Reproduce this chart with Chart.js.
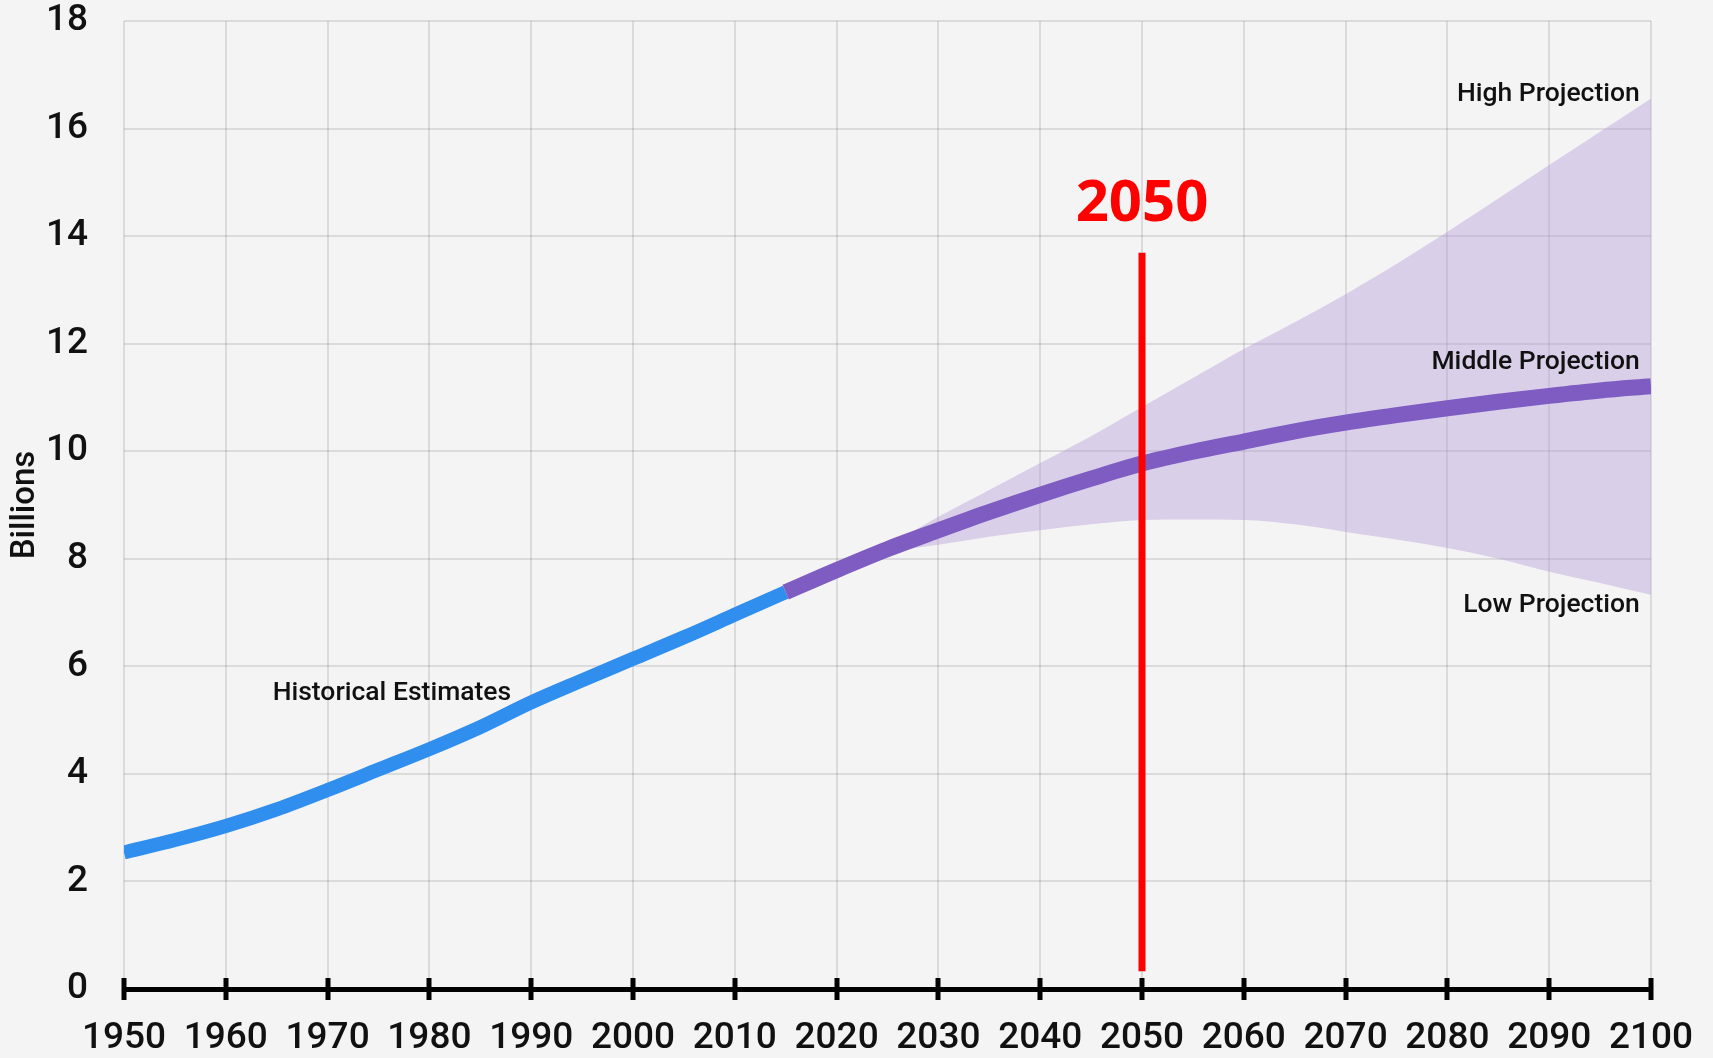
<!DOCTYPE html>
<html><head><meta charset="utf-8">
<script src="https://cdn.jsdelivr.net/npm/chart.js@4.4.1/dist/chart.umd.min.js"></script>
<style>html,body{margin:0;padding:0;background:#f4f4f4;} canvas{display:block;}</style>
</head><body>
<canvas id="c" width="1713" height="1058"></canvas>
<script>
// ---- data ----
const histYears  = [1950,1955,1960,1965,1970,1975,1980,1985,1990,1995,2000,2005,2010,2015];
const histValues = [2.54,2.77,3.03,3.34,3.70,4.08,4.46,4.87,5.33,5.74,6.14,6.54,6.96,7.38];

const projYears    = [2015,2020,2025,2030,2035,2040,2045,2050,2055,2060,2065,2070,2075,2080,2085,2090,2095,2100];
const middleValues = [7.38,7.79,8.18,8.53,8.87,9.19,9.49,9.77,9.99,10.18,10.37,10.53,10.67,10.80,10.92,11.03,11.13,11.21];

const bandYears  = [2020,2025,2030,2035,2040,2045,2050,2055,2060,2065,2070,2075,2080,2085,2090,2095,2100];
const highValues = [7.79,8.24,8.78,9.28,9.78,10.28,10.82,11.36,11.90,12.40,12.92,13.48,14.08,14.70,15.32,15.94,16.56];
const lowValues  = [7.79,8.11,8.26,8.41,8.53,8.64,8.72,8.73,8.72,8.64,8.50,8.36,8.20,8.00,7.76,7.55,7.33];

const markerYears  = [2050,2050];
const markerValues = [0.33,13.69];
const markerLabel  = '2050';

const xTickLabels = ['1950','1960','1970','1980','1990','2000','2010','2020','2030','2040','2050','2060','2070','2080','2090','2100'];
const yTickLabels = ['0','2','4','6','8','10','12','14','16','18'];
const yTitle = 'Billions';
const seriesLabels = ['Historical Estimates','High Projection','Middle Projection','Low Projection'];

// ---- build ----
const pts = (xs, ys) => xs.map((x,i)=>({x, y: ys[i]}));
const noPad = s => { s.paddingTop = 0; s.paddingBottom = 0; s.paddingLeft = 0; s.paddingRight = 0; };

const tickMarks = {
  id: 'tickMarks',
  afterDraw(chart) {
    const ctx = chart.ctx, xs = chart.scales.x, bottom = chart.chartArea.bottom;
    ctx.save();
    ctx.fillStyle = '#000';
    xs.ticks.forEach(t => {
      const px = Math.round(xs.getPixelForValue(t.value));
      ctx.fillRect(px - 2.5, bottom - 11, 5, 22);
    });
    ctx.restore();
  }
};

const annotations = {
  id: 'annotations',
  afterDatasetsDraw(chart) {
    const ctx = chart.ctx, xs = chart.scales.x, ys = chart.scales.y;
    ctx.save();
    ctx.fillStyle = '#111';
    ctx.font = '500 26.5px Roboto';
    ctx.textBaseline = 'alphabetic';
    ctx.textAlign = 'left';
    ctx.fillText(seriesLabels[0], xs.getPixelForValue(1964.6), ys.getPixelForValue(5.37));
    ctx.textAlign = 'right';
    ctx.fillText(seriesLabels[1], xs.getPixelForValue(2098.9), ys.getPixelForValue(16.51));
    ctx.fillText(seriesLabels[2], xs.getPixelForValue(2098.9), ys.getPixelForValue(11.53));
    ctx.fillText(seriesLabels[3], xs.getPixelForValue(2098.9), ys.getPixelForValue(7.01));
    ctx.fillStyle = '#ff0000';
    ctx.font = '700 58px "Open Sans"';
    ctx.textAlign = 'center';
    ctx.fillText(markerLabel, xs.getPixelForValue(markerYears[0]), ys.getPixelForValue(14.28));
    ctx.restore();
  }
};

new Chart(document.getElementById('c'), {
  type: 'line',
  data: {
    datasets: [
      { label: 'marker', data: pts(markerYears, markerValues), borderColor: '#ff0000', borderWidth: 7, pointRadius: 0, borderCapStyle: 'butt', fill: false },
      { label: 'middle', data: pts(projYears, middleValues), borderColor: '#7f5cc2', borderWidth: 16, pointRadius: 0, cubicInterpolationMode: 'monotone', fill: false },
      { label: 'historical', data: pts(histYears, histValues), borderColor: '#2f8eee', borderWidth: 14, pointRadius: 0, cubicInterpolationMode: 'monotone', fill: false },
      { label: 'high', data: pts(bandYears, highValues), borderWidth: 0, borderColor: 'rgba(0,0,0,0)', pointRadius: 0, cubicInterpolationMode: 'monotone', fill: '+1', backgroundColor: 'rgba(178,156,218,0.42)' },
      { label: 'low', data: pts(bandYears, lowValues), borderWidth: 0, borderColor: 'rgba(0,0,0,0)', pointRadius: 0, cubicInterpolationMode: 'monotone', fill: false }
    ]
  },
  options: {
    responsive: false,
    animation: false,
    events: [],
    layout: { padding: { top: 21, right: 62, left: 0, bottom: 0 } },
    plugins: { legend: { display: false }, tooltip: { enabled: false } },
    scales: {
      x: {
        type: 'linear', min: 1950, max: 2100,
        afterFit: s => { s.height = 69; noPad(s); },
        border: { display: true, color: '#000', width: 5 },
        grid: { color: 'rgba(0,0,0,0.1)', lineWidth: 2, drawTicks: false },
        ticks: {
          stepSize: 10, padding: 31, color: '#111', maxRotation: 0, autoSkip: false,
          font: { family: 'Roboto', size: 37, weight: '500', lineHeight: 1 },
          callback: (v) => xTickLabels[Math.round((v - 1950) / 10)]
        }
      },
      y: {
        type: 'linear', min: 0, max: 18,
        afterFit: s => { s.width = 124; noPad(s); },
        border: { display: false },
        grid: { color: 'rgba(0,0,0,0.1)', lineWidth: 2, drawTicks: false },
        title: { display: true, text: yTitle, color: '#111', padding: { top: 6, bottom: 0 }, font: { family: 'Roboto', size: 33, weight: '500', lineHeight: 1.2 } },
        ticks: {
          stepSize: 2, padding: 36, color: '#111',
          font: { family: 'Roboto', size: 37, weight: '500', lineHeight: 1 },
          callback: (v) => yTickLabels[Math.round(v / 2)]
        }
      }
    }
  },
  plugins: [tickMarks, annotations]
});
</script>
</body></html>
